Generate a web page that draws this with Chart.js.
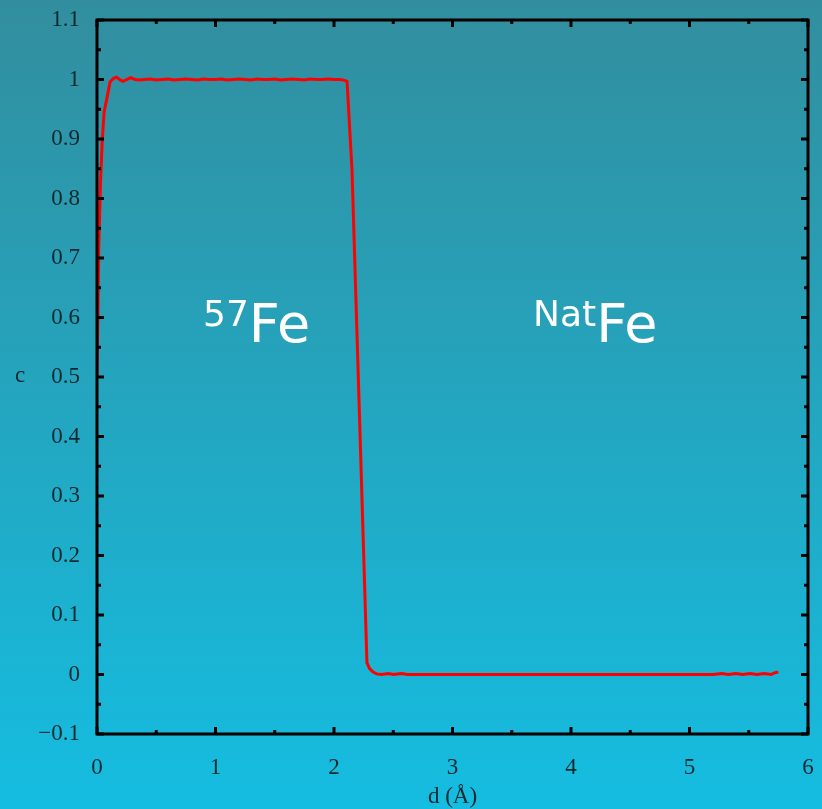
<!DOCTYPE html>
<html>
<head>
<meta charset="utf-8">
<script src="https://cdn.jsdelivr.net/npm/chart.js@4.4.1/dist/chart.umd.min.js"></script>
<style>
    html, body { margin: 0; padding: 0; background: #22a6c4; }
    #wrap { width: 822px; height: 809px; position: relative; }
</style>
</head>
<body>
<div id="wrap"><canvas id="profile"></canvas></div>
<script>
// depth (Å) and concentration
const dValues = [
    0, 0.015, 0.03, 0.045, 0.06, 0.085, 0.11, 0.14, 0.165, 0.19, 0.22, 0.25, 0.285, 0.32, 0.36,
    0.4, 0.45, 0.5, 0.55, 0.6, 0.65, 0.7, 0.75, 0.8, 0.85, 0.9, 0.95, 1.0, 1.05, 1.1, 1.15,
    1.2, 1.25, 1.3, 1.35, 1.4, 1.45, 1.5, 1.55, 1.6, 1.65, 1.7, 1.75, 1.8, 1.85, 1.9, 1.95,
    2.0, 2.05, 2.08, 2.11, 2.152, 2.2, 2.25, 2.278, 2.3, 2.33, 2.36, 2.4, 2.46, 2.5, 2.57, 2.62,
    2.8, 3.0, 3.5, 4.0, 4.5, 5.0, 5.2, 5.27, 5.33, 5.39, 5.45, 5.51, 5.57, 5.63, 5.69, 5.72, 5.75
];
const cValues = [
    0.5, 0.72, 0.83, 0.9, 0.945, 0.97, 0.996, 1.002, 1.004, 1.0, 0.997, 1.0, 1.003, 1.0, 0.999,
    1.0, 1.001, 0.999, 1.0, 1.001, 0.999, 1.0, 1.001, 1.0, 0.999, 1.001, 1.0, 1.0, 1.001, 0.999, 1.0,
    1.001, 1.0, 0.999, 1.001, 1.0, 1.0, 1.001, 0.999, 1.0, 1.001, 1.0, 0.999, 1.001, 1.0, 1.0, 1.001,
    1.0, 1.0, 0.999, 0.997, 0.848, 0.533, 0.205, 0.02, 0.01, 0.004, 0.001, 0.0, 0.0015, 0.0, 0.0015, 0.0,
    0.0, 0.0, 0.0, 0.0, 0.0, 0.0, 0.0, 0.0015, 0.0, 0.0015, 0.0, 0.0015, 0.0, 0.0015, 0.0, 0.003, 0.004
];
const xTicks = [0, 1, 2, 3, 4, 5, 6];
const yTicks = [-0.1, 0, 0.1, 0.2, 0.3, 0.4, 0.5, 0.6, 0.7, 0.8, 0.9, 1, 1.1];

const labelFont = '"Liberation Serif", "DejaVu Serif", serif';
const labelColor = '#0e2a30';

// gradient backdrop behind everything
const backdrop = {
    id: 'backdrop',
    beforeDraw(chart) {
        const ctx = chart.ctx;
        const g = ctx.createLinearGradient(0, 0, 0, chart.height);
        g.addColorStop(0, '#328e9e');
        g.addColorStop(1, '#15bde1');
        ctx.save();
        ctx.fillStyle = g;
        ctx.fillRect(0, 0, chart.width, chart.height);
        ctx.restore();
    }
};

// gnuplot style frame with inward ticks on all four sides, plus axis titles and isotope labels
const frame = {
    id: 'frame',
    afterDraw(chart, args, opts) {
        const ctx = chart.ctx;
        const a = chart.chartArea;
        const xs = chart.scales.x, ys = chart.scales.y;
        ctx.save();
        ctx.strokeStyle = '#000';
        ctx.lineWidth = 3;
        ctx.strokeRect(a.left, a.top, a.right - a.left, a.bottom - a.top);

        ctx.beginPath();
        for (let v = 0; v <= 6.001; v += 0.5) {
            const px = xs.getPixelForValue(v);
            const len = Math.abs(v - Math.round(v)) < 1e-6 ? 7 : 4;
            ctx.moveTo(px, a.bottom); ctx.lineTo(px, a.bottom - len);
            ctx.moveTo(px, a.top); ctx.lineTo(px, a.top + len);
        }
        for (let i = -2; i <= 22; i++) {
            const py = ys.getPixelForValue(i * 0.05);
            const len = i % 2 === 0 ? 7 : 4;
            ctx.moveTo(a.left, py); ctx.lineTo(a.left + len, py);
            ctx.moveTo(a.right, py); ctx.lineTo(a.right - len, py);
        }
        ctx.stroke();

        // axis titles
        ctx.fillStyle = labelColor;
        ctx.font = '23px ' + labelFont;
        ctx.textAlign = 'center';
        ctx.textBaseline = 'alphabetic';
        ctx.fillText('c', 20, 382);
        ctx.fillText('d (Å)', (a.left + a.right) / 2, 803);

        // isotope labels
        ctx.fillStyle = '#ffffff';
        ctx.textAlign = 'left';
        opts.labels.forEach(l => {
            let x = xs.getPixelForValue(l.x);
            const y = ys.getPixelForValue(l.y);
            ctx.font = '36px "DejaVu Sans", sans-serif';
            ctx.fillText(l.sup, x, y - 16);
            x += ctx.measureText(l.sup).width;
            ctx.font = '54px "DejaVu Sans", sans-serif';
            ctx.fillText('Fe', x, y);
        });
        ctx.restore();
    }
};

new Chart(document.getElementById('profile').getContext('2d'), {
    type: 'scatter',
    data: {
        datasets: [{
            data: dValues.map((d, i) => ({ x: d, y: cValues[i] })),
            showLine: true,
            borderColor: '#ff0000',
            borderWidth: 3,
            pointRadius: 0,
            tension: 0,
        }],
    },
    options: {
        responsive: true,
        maintainAspectRatio: false,
        animation: false,
        layout: {
            padding: { top: 20, right: 14, left: 0, bottom: 0 }
        },
        plugins: {
            legend: { display: false },
            tooltip: { enabled: false },
            frame: {
                labels: [
                    { sup: '57', x: 0.895, y: 0.558 },
                    { sup: 'Nat', x: 3.68, y: 0.558 },
                ]
            }
        },
        scales: {
            x: {
                type: 'linear',
                min: 0,
                max: 6,
                afterBuildTicks: (scale) => { scale.ticks = xTicks.map(v => ({ value: v })); },
                afterFit: (scale) => {
                    scale.height = 75;
                    scale.paddingLeft = 0;
                    scale.paddingRight = 0;
                },
                ticks: {
                    color: labelColor,
                    font: { family: labelFont, size: 23 },
                    padding: 20,
                    maxRotation: 0,
                },
                grid: { display: false, drawTicks: false },
                border: { display: false },
            },
            y: {
                type: 'linear',
                min: -0.1,
                max: 1.1,
                afterBuildTicks: (scale) => { scale.ticks = yTicks.map(v => ({ value: v })); },
                afterFit: (scale) => {
                    scale.width = 97;
                    scale.paddingTop = 0;
                    scale.paddingBottom = 0;
                },
                ticks: {
                    color: labelColor,
                    font: { family: labelFont, size: 23 },
                    padding: 17,
                    callback: (v) => {
                        const s = String(Math.round(v * 10) / 10);
                        return s.replace('-', '\u2212');
                    }
                },
                grid: { display: false, drawTicks: false },
                border: { display: false },
            }
        }
    },
    plugins: [backdrop, frame]
});
</script>
</body>
</html>
